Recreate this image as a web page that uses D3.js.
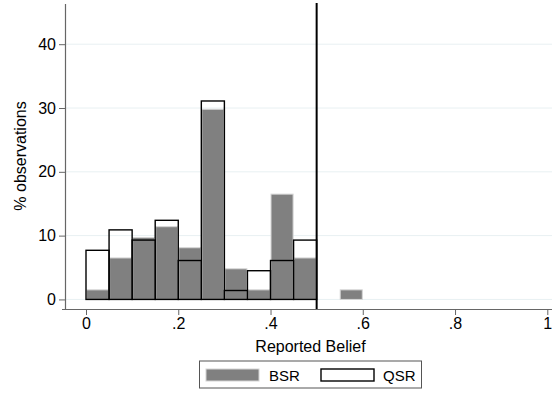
<!DOCTYPE html>
<html>
<head>
<meta charset="utf-8">
<script src="https://cdn.jsdelivr.net/npm/d3@7"></script>
<style>
  body { margin: 0; background: #fff; }
  text { font-family: Arial, "Liberation Sans", sans-serif; fill: #000; }
</style>
</head>
<body>
<script>
/* -----------------------------------------------------
 *  Data (bin starts, % of observations)
 ----------------------------------------------------- */
const binWidth = 0.05;
const bsrBins = [0, 0.05, 0.1, 0.15, 0.2, 0.25, 0.3, 0.35, 0.4, 0.45, 0.55];
const bsrValues = [1.5, 6.5, 9.7, 11.4, 8.1, 29.8, 4.8, 1.5, 16.5, 6.5, 1.5];
const qsrBins = [0, 0.05, 0.1, 0.15, 0.2, 0.25, 0.3, 0.35, 0.4, 0.45];
const qsrValues = [7.7, 10.9, 9.3, 12.4, 6.1, 31.1, 1.4, 4.5, 6.1, 9.3];
const xTicks = [0, 0.2, 0.4, 0.6, 0.8, 1];
const xTickLabels = ["0", ".2", ".4", ".6", ".8", "1"];
const yTicks = [0, 10, 20, 30, 40];
const threshold = 0.5;

/* -----------------------------------------------------
 *  SVG setup
 ----------------------------------------------------- */
const width = 552;
const height = 394;

const svg = d3
  .select("body")
  .append("svg")
  .attr("width", width)
  .attr("height", height);

const x = d3.scaleLinear().domain([0, 1]).range([86, 547.3]);
const y = d3.scaleLinear().domain([-1.5, 46.3]).range([309, 4]);

// gridlines
svg
  .selectAll(".grid")
  .data(yTicks)
  .enter()
  .append("line")
  .attr("x1", 65)
  .attr("x2", width)
  .attr("y1", (d) => y(d))
  .attr("y2", (d) => y(d))
  .attr("stroke", "#e8f0f2")
  .attr("stroke-width", 1);

/* -----------------------------------------------------
 *  Bars
 ----------------------------------------------------- */
svg
  .selectAll(".bsr")
  .data(bsrBins)
  .enter()
  .append("rect")
  .attr("class", "bsr")
  .attr("x", (d) => x(d) + 0.5)
  .attr("width", x(binWidth) - x(0) - 1)
  .attr("y", (d, i) => y(bsrValues[i]))
  .attr("height", (d, i) => y(0) - y(bsrValues[i]))
  .attr("fill", "#808080")
  .attr("stroke", "#d4d4d4")
  .attr("stroke-width", 1);

svg
  .selectAll(".qsr")
  .data(qsrBins)
  .enter()
  .append("rect")
  .attr("class", "qsr")
  .attr("x", (d) => x(d))
  .attr("width", x(binWidth) - x(0))
  .attr("y", (d, i) => y(qsrValues[i]))
  .attr("height", (d, i) => y(0) - y(qsrValues[i]))
  .attr("fill", "none")
  .attr("stroke", "#000")
  .attr("stroke-width", 1.4);

/* -----------------------------------------------------
 *  Axes
 ----------------------------------------------------- */
const xAxis = svg
  .append("g")
  .attr("transform", `translate(0,${y.range()[0]})`)
  .call(
    d3
      .axisBottom(x)
      .tickValues(xTicks)
      .tickFormat((d, i) => xTickLabels[i])
      .tickSize(6)
      .tickPadding(3)
  );
xAxis.select(".domain").attr("d", `M62,0.5H${width}`);

const yAxis = svg
  .append("g")
  .attr("transform", "translate(65,0)")
  .call(d3.axisLeft(y).tickValues(yTicks).tickSize(6).tickPadding(3));
yAxis.select(".domain").attr("d", `M0.5,4V309`);

svg.selectAll(".domain").attr("stroke", "#666").attr("stroke-width", 1.2);
svg.selectAll(".tick line").attr("stroke", "#666");
svg
  .selectAll(".tick text")
  .style("font-size", "16px")
  .style("font-family", "Arial, 'Liberation Sans', sans-serif")
  .attr("fill", "#000");

// threshold line
svg
  .append("line")
  .attr("x1", x(threshold))
  .attr("x2", x(threshold))
  .attr("y1", 3)
  .attr("y2", y.range()[0])
  .attr("stroke", "#000")
  .attr("stroke-width", 2);

// axis titles
svg
  .append("text")
  .attr("x", 310.5)
  .attr("y", 352)
  .attr("text-anchor", "middle")
  .style("font-size", "16px")
  .text("Reported Belief");

svg
  .append("text")
  .attr("transform", "translate(26,156) rotate(-90)")
  .attr("text-anchor", "middle")
  .style("font-size", "16px")
  .text("% observations");

/* -----------------------------------------------------
 *  Legend
 ----------------------------------------------------- */
svg
  .append("rect")
  .attr("x", 199.5)
  .attr("y", 361)
  .attr("width", 222)
  .attr("height", 27)
  .attr("fill", "#fff")
  .attr("stroke", "#555")
  .attr("stroke-width", 1);
svg
  .append("rect")
  .attr("x", 206)
  .attr("y", 369)
  .attr("width", 53)
  .attr("height", 12)
  .attr("fill", "#808080")
  .attr("stroke", "#d4d4d4");
svg
  .append("rect")
  .attr("x", 321)
  .attr("y", 369)
  .attr("width", 53)
  .attr("height", 12)
  .attr("fill", "none")
  .attr("stroke", "#000")
  .attr("stroke-width", 1.4);
svg
  .append("text")
  .attr("x", 269)
  .attr("y", 381)
  .style("font-size", "15px")
  .text("BSR");
svg
  .append("text")
  .attr("x", 383)
  .attr("y", 381)
  .style("font-size", "15px")
  .text("QSR");
</script>
</body>
</html>
